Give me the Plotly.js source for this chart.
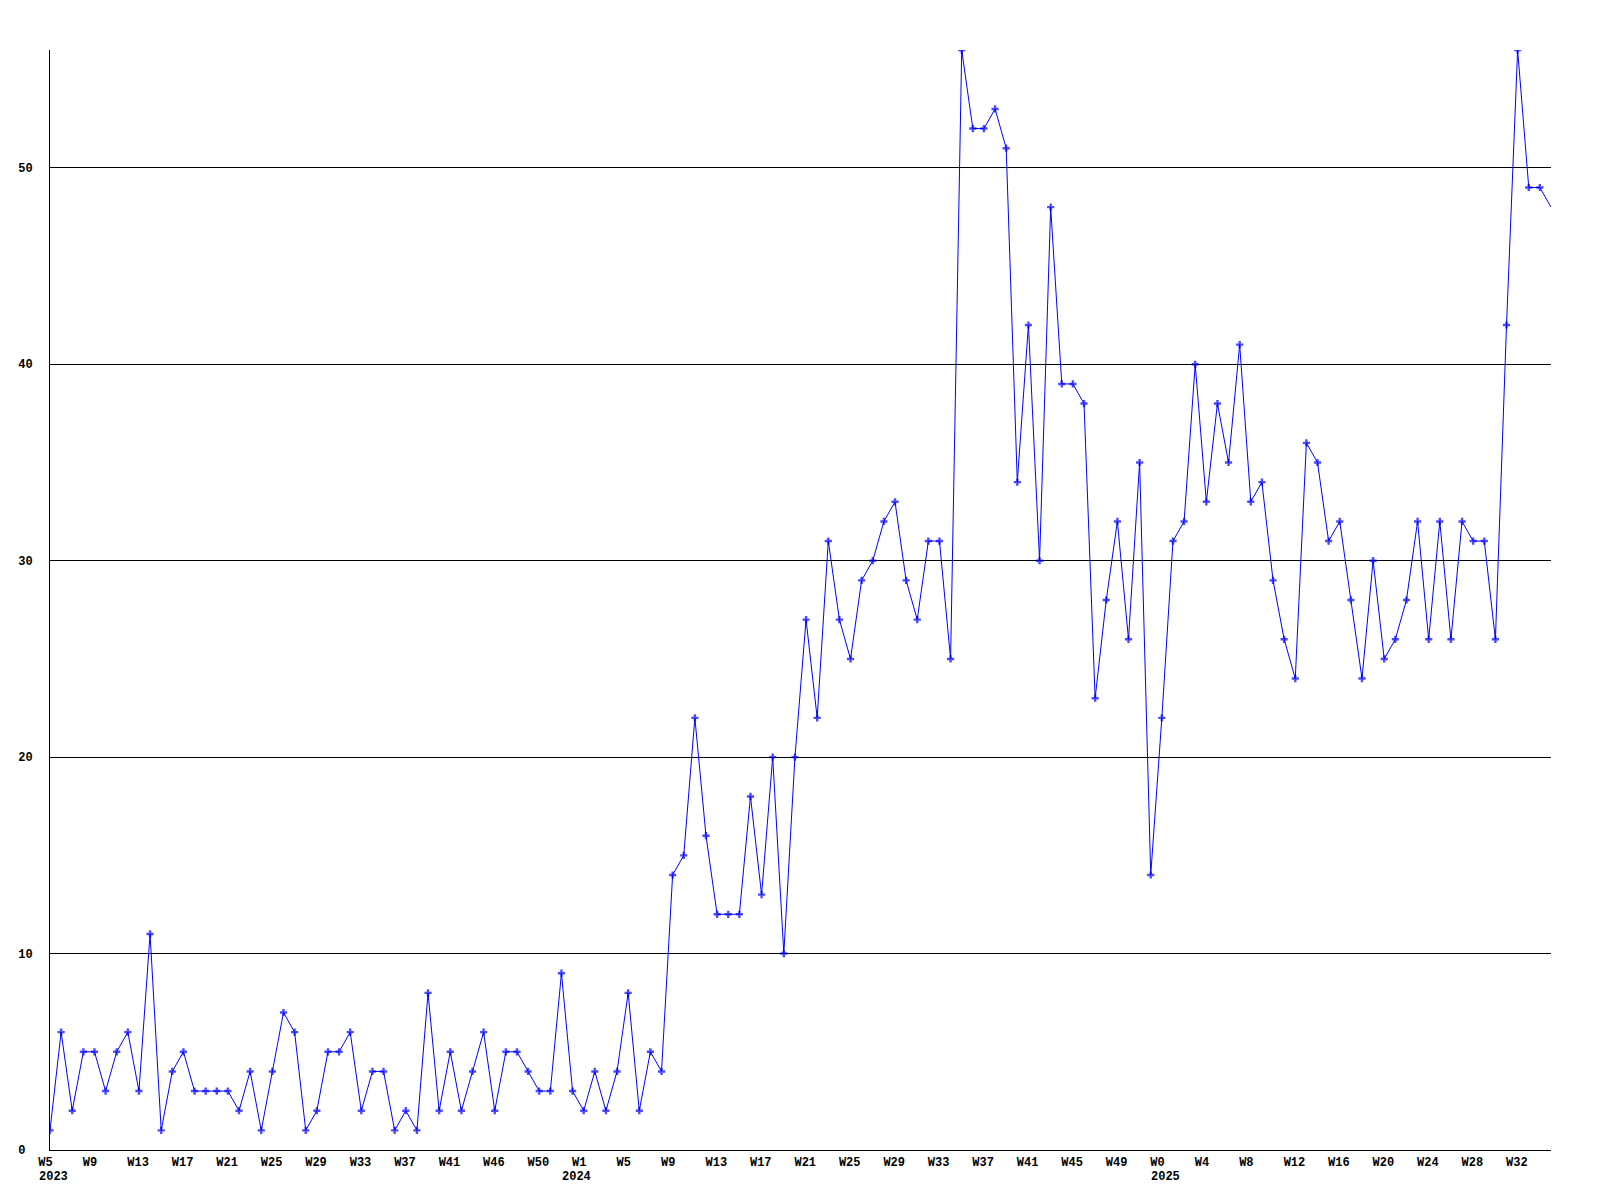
<!DOCTYPE html>
<html>
<head>
<meta charset="utf-8">
<script src="https://cdn.plot.ly/plotly-3.0.1.min.js"></script>
<style>
  html, body { margin: 0; padding: 0; background: #ffffff; }
  #chart { width: 1600px; height: 1200px; }
</style>
</head>
<body>
<div id="chart"></div>
<script>
// Weekly counts, W5 2023 .. W35 2025 (one value per week)
const weeklyCounts = [
  1, 6, 2, 5, 5, 3, 5, 6, 3, 11,
  1, 4, 5, 3, 3, 3, 3, 2, 4, 1,
  4, 7, 6, 1, 2, 5, 5, 6, 2, 4,
  4, 1, 2, 1, 8, 2, 5, 2, 4, 6,
  2, 5, 5, 4, 3, 3, 9, 3, 2, 4,
  2, 4, 8, 2, 5, 4, 14, 15, 22, 16,
  12, 12, 12, 18, 13, 20, 10, 20, 27, 22,
  31, 27, 25, 29, 30, 32, 33, 29, 27, 31,
  31, 25, 56, 52, 52, 53, 51, 34, 42, 30,
  48, 39, 39, 38, 23, 28, 32, 26, 35, 14,
  22, 31, 32, 40, 33, 38, 35, 41, 33, 34,
  29, 26, 24, 36, 35, 31, 32, 28, 24, 30,
  25, 26, 28, 32, 26, 32, 26, 32, 31, 31,
  26, 42, 56, 49, 49, 48
];

// Week tick labels, one every 4 weeks
const weekTickLabels = [
  "W5", "W9", "W13", "W17", "W21", "W25", "W29", "W33", "W37", "W41", "W46", "W50",
  "W1", "W5", "W9", "W13", "W17", "W21", "W25", "W29", "W33", "W37", "W41", "W45", "W49",
  "W0", "W4", "W8", "W12", "W16", "W20", "W24", "W28", "W32"
];
// Year labels and the week (point index) where each year starts
const yearLabels = ["2023", "2024", "2025"];
const yearStartIndex = [0, 47, 100];

const yTickValues = [0, 10, 20, 30, 40, 50];
const yTickLabels = ["0", "10", "20", "30", "40", "50"];

const WEEKS_PER_TICK = 4;
const LABEL_OFFSET = 0.25; // shift so left-aligned labels start just left of the point
const NB = "\u00a0";
function padRight(s, n) { while (s.length < n) s += NB; return s; }

const xIdx = weeklyCounts.map((_, i) => i);
const tickVals = weekTickLabels.map((_, k) => k * WEEKS_PER_TICK + LABEL_OFFSET);
const tickText = weekTickLabels.map(w => padRight(w, 4));
const yText = yTickLabels.map(s => padRight(s, 2));
const markerSizes = weeklyCounts.map((_, i) => (i === weeklyCounts.length - 1 ? 0 : 6));

const tickFont = { family: "Liberation Mono, DejaVu Sans Mono, monospace", size: 12, color: "#000000", weight: "bold" };

const yearAnnotations = yearLabels.map((yr, k) => ({
  x: yearStartIndex[k],
  xref: "x",
  y: 0,
  yref: "paper",
  xanchor: "left",
  yanchor: "top",
  xshift: -13,
  yshift: -18,
  text: yr,
  showarrow: false,
  font: tickFont,
  borderpad: 1
}));

const trace = {
  x: xIdx,
  y: weeklyCounts,
  type: "scatter",
  mode: "lines+markers",
  line: { color: "#0000ff", width: 1 },
  marker: { color: "#0000ff", symbol: "cross", size: markerSizes, line: { width: 0 } },
  hoverinfo: "skip",
  showlegend: false
};

const layout = {
  width: 1600,
  height: 1200,
  margin: { l: 50, r: 49, t: 50, b: 50, pad: 0 },
  paper_bgcolor: "#ffffff",
  plot_bgcolor: "#ffffff",
  showlegend: false,
  annotations: yearAnnotations,
  xaxis: {
    range: [0, weeklyCounts.length - 1],
    tickmode: "array",
    tickvals: tickVals,
    ticktext: tickText,
    tickfont: tickFont,
    tickangle: 0,
    ticks: "outside",
    ticklen: 1,
    tickcolor: "rgba(0,0,0,0)",
    showgrid: false,
    zeroline: false,
    showline: true,
    linecolor: "#000000",
    linewidth: 1,
    fixedrange: true
  },
  yaxis: {
    range: [0, 56],
    tickmode: "array",
    tickvals: yTickValues,
    ticktext: yText,
    tickfont: tickFont,
    ticks: "outside",
    ticklen: 14,
    tickcolor: "rgba(0,0,0,0)",
    showgrid: true,
    gridcolor: "#000000",
    gridwidth: 1,
    zeroline: false,
    showline: true,
    linecolor: "#000000",
    linewidth: 1,
    fixedrange: true
  }
};

Plotly.newPlot("chart", [trace], layout, { displayModeBar: false, staticPlot: true });
</script>
</body>
</html>
